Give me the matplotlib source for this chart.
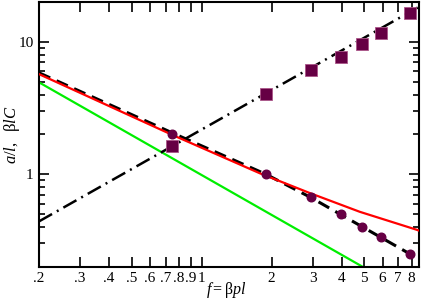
import matplotlib
matplotlib.use("Agg")
import matplotlib.pyplot as plt
from matplotlib.ticker import FixedLocator, NullFormatter, NullLocator

plt.rcParams['mathtext.fontset'] = 'custom'
plt.rcParams['mathtext.rm'] = 'Liberation Serif'
plt.rcParams['mathtext.it'] = 'Liberation Serif:italic'
plt.rcParams['font.family'] = ['Liberation Serif', 'DejaVu Serif']

# data
circle_x = [0.75, 1.89, 2.95, 3.96, 4.92, 5.92, 7.86]
circle_y = [2.0, 1.0, 0.667, 0.50, 0.40, 0.333, 0.25]
square_x = [0.75, 1.89, 2.95, 3.96, 4.92, 5.90, 7.86]
square_y = [1.64, 4.01, 6.12, 7.71, 9.66, 11.6, 16.5]
dashdot_x = [0.2, 8.6]
dashdot_y = [0.44, 18.4]
dashed_x = [0.2, 0.75, 1.89, 2.95, 7.86, 8.6]
dashed_y = [5.84, 2.05, 1.0, 0.667, 0.25, 0.229]
red_x = [0.2, 0.75, 1.78, 2.93, 4.79, 8.39, 8.6]
red_y = [5.71, 1.98, 1.017, 0.719, 0.52, 0.381, 0.375]
green_x = [0.2, 4.92]
green_y = [4.95, 0.2]
xtick_vals = [0.2, 0.3, 0.4, 0.5, 0.6, 0.7, 0.8, 0.9, 1, 2, 3, 4, 5, 6, 7, 8]
xtick_labels = ['.2', '.3', '.4', '.5', '.6', '.7', '.8', '.9', '1', '2', '3', '4', '5', '6', '7', '8']
ytick_vals = [1, 10]
ytick_labels = ['1', '10']

fig = plt.figure(figsize=(4.21, 3.00), dpi=100)
ax = fig.add_axes([0.0926, 0.111, 0.9024, 0.882])
ax.set_xscale('log')
ax.set_yscale('log')

ax.plot(green_x, green_y, color='#00ee00', lw=1.6, zorder=2)
ax.plot(red_x, red_y, color='#ff0000', lw=1.6, zorder=3)
ax.plot(dashed_x, dashed_y, color='black', lw=2.2, ls=(0, (4, 2.3)), zorder=2)
ax.plot(dashdot_x, dashdot_y, color='black', lw=1.8, ls=(0, (6, 2.2, 0.8, 2.2)), zorder=2)
ax.plot(circle_x, circle_y, 'o', color='#660044', ms=6.2, mec='#660044', zorder=4)
ax.plot(square_x, square_y, 's', color='#660044', ms=8.3, mec='#aa5588', mew=0.6, zorder=4)

ax.set_xlim(0.2, 8.6)
ax.set_ylim(0.2, 20)

ax.xaxis.set_major_locator(FixedLocator(xtick_vals))
ax.set_xticklabels(xtick_labels)
ax.xaxis.set_minor_locator(NullLocator())
ax.yaxis.set_major_locator(FixedLocator(ytick_vals))
ax.set_yticklabels(ytick_labels)
ax.yaxis.set_minor_locator(FixedLocator([0.3, 0.4, 0.5, 0.6, 0.7, 0.8, 0.9, 2, 3, 4, 5, 6, 7, 8, 9]))
ax.yaxis.set_minor_formatter(NullFormatter())

ax.tick_params(which='both', direction='in', top=True, right=True, width=1.2, labelsize=11, pad=4)
ax.tick_params(which='major', length=7)
ax.tick_params(which='minor', length=4)
for s in ax.spines.values():
    s.set_linewidth(1.5)

fig.text(226 / 421, 1 - 290 / 300, r'$f\mathrm{=β}pl$', fontsize=11.5, ha='center', va='center')
fig.text(12 / 421, 1 - 135 / 300, r'$a/l,\ \ \mathrm{β}lC$', fontsize=12, ha='center', va='center', rotation=90)

fig.savefig('out.png', dpi=100)
